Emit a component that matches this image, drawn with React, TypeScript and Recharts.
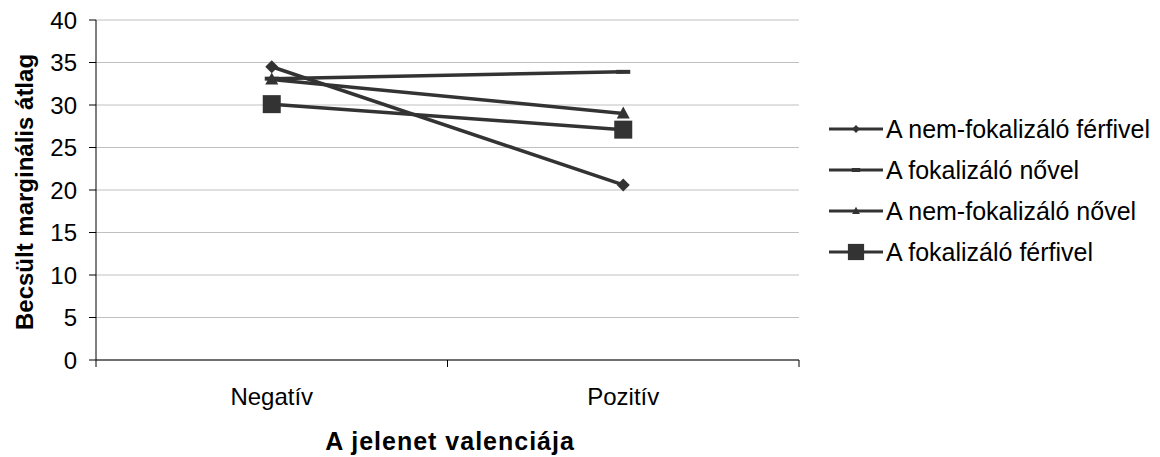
import React from 'react';
import { LineChart, Line, XAxis, YAxis, CartesianGrid, Legend } from 'recharts';

const categories = ['Negatív', 'Pozitív'];
const nemFokFerfi = [34.5, 20.6];
const fokNo = [33.1, 33.9];
const nemFokNo = [33.0, 29.0];
const fokFerfi = [30.1, 27.1];
const yTicks = [0, 5, 10, 15, 20, 25, 30, 35, 40];
const seriesNames = [
  'A nem-fokalizáló férfivel',
  'A fokalizáló nővel',
  'A nem-fokalizáló nővel',
  'A fokalizáló férfivel',
];
const yLabel = 'Becsült marginális átlag';
const xLabel = 'A jelenet valenciája';

const data = categories.map((c, i) => ({
  x: i + 0.5,
  cat: c,
  s1: nemFokFerfi[i],
  s2: fokNo[i],
  s3: nemFokNo[i],
  s4: fokFerfi[i],
}));

const COLOR = '#333333';
const FONT = '"Liberation Sans", Arial, sans-serif';
const LW = 3.5;

const shapes = ['diamond', 'dash', 'triangle', 'square'];

function Marker({ shape, cx, cy, scale = 1 }: any) {
  if (cx == null || cy == null) return null;
  if (shape === 'diamond') {
    const h = 6.5 * scale;
    return <polygon points={`${cx},${cy - h} ${cx + h},${cy} ${cx},${cy + h} ${cx - h},${cy}`} fill={COLOR} />;
  }
  if (shape === 'triangle') {
    const w = 6.5 * scale;
    return <polygon points={`${cx},${cy - 7 * scale} ${cx + w},${cy + 5 * scale} ${cx - w},${cy + 5 * scale}`} fill={COLOR} />;
  }
  if (shape === 'square') {
    const s = 9 * scale;
    return <rect x={cx - s} y={cy - s} width={2 * s} height={2 * s} fill={COLOR} />;
  }
  const w = 7 * scale;
  return <rect x={cx - w} y={cy - 2} width={2 * w} height={4} fill={COLOR} />;
}

const mkDot = (shape: string) => (props: any) => (
  <Marker key={`${shape}-${props.index}`} shape={shape} cx={props.cx} cy={props.cy} />
);

function XTick(props: any) {
  const { x, y, payload } = props;
  const v = payload.value;
  if (Number.isInteger(v)) {
    return <line x1={x} y1={y - 7} x2={x} y2={y} stroke="#000" strokeWidth={1} />;
  }
  const idx = Math.floor(v);
  return (
    <text x={x} y={y + 38} textAnchor="middle" fontFamily={FONT} fontSize={24} fill="#000">
      {categories[idx]}
    </text>
  );
}

function YTick(props: any) {
  const { x, y, payload } = props;
  return (
    <text x={x} y={y + 8.5} textAnchor="end" fontFamily={FONT} fontSize={24} fill="#000">
      {payload.value}
    </text>
  );
}

function LegendContent() {
  return (
    <svg width={330} height={170}>
      {seriesNames.map((n, i) => {
        const cy = 14 + i * 41;
        return (
          <g key={n}>
            <line x1={0} y1={cy} x2={54} y2={cy} stroke={COLOR} strokeWidth={3} />
            <Marker shape={shapes[i]} cx={27} cy={cy} scale={shapes[i] === 'square' ? 0.9 : 0.6} />
            <text x={57} y={cy + 9} fontFamily={FONT} fontSize={25} fill="#000">
              {n}
            </text>
          </g>
        );
      })}
    </svg>
  );
}

export default function App() {
  return (
    <div style={{ position: 'absolute', left: 0, top: 0, width: 1160, height: 457, background: '#fff' }}>
      <LineChart width={1160} height={457} data={data} margin={{ top: 20, right: 361, bottom: 0, left: 0 }}>
        <CartesianGrid horizontal vertical={false} stroke="#c0c0c0" strokeWidth={1} />
        <XAxis
          dataKey="x"
          type="number"
          domain={[0, 2]}
          ticks={[0, 0.5, 1, 1.5, 2]}
          tickLine={false}
          tickSize={7}
          tickMargin={0}
          axisLine={{ stroke: '#000' }}
          height={97}
          tick={<XTick />}
          interval={0}
          label={{
            content: () => (
              <text x={450} y={450} textAnchor="middle" fontFamily={FONT} fontSize={25} fontWeight="bold" letterSpacing={1} fill="#000">
                {xLabel}
              </text>
            ),
          }}
        />
        <YAxis
          domain={[0, 40]}
          ticks={yTicks}
          width={96}
          tickSize={7}
          tickMargin={12}
          tickLine={{ stroke: '#000' }}
          axisLine={{ stroke: '#000' }}
          tick={<YTick />}
          interval={0}
          label={{
            content: (p: any) => {
              const vb = p.viewBox;
              const cy = vb.y + vb.height / 2 + 2;
              return (
                <text x={0} y={0} transform={`translate(33, ${cy}) rotate(-90)`} textAnchor="middle" fontFamily={FONT} fontSize={24} fontWeight="bold" fill="#000">
                  {yLabel}
                </text>
              );
            },
          }}
        />
        <Legend
          layout="vertical"
          align="center"
          verticalAlign="middle"
          content={<LegendContent />}
          wrapperStyle={{ left: 829, top: 115, width: 330, height: 170 }}
        />
        <Line dataKey="s1" name={seriesNames[0]} stroke={COLOR} strokeWidth={LW} dot={mkDot('diamond')} isAnimationActive={false} />
        <Line dataKey="s2" name={seriesNames[1]} stroke={COLOR} strokeWidth={LW} dot={mkDot('dash')} isAnimationActive={false} />
        <Line dataKey="s3" name={seriesNames[2]} stroke={COLOR} strokeWidth={LW} dot={mkDot('triangle')} isAnimationActive={false} />
        <Line dataKey="s4" name={seriesNames[3]} stroke={COLOR} strokeWidth={LW} dot={mkDot('square')} isAnimationActive={false} />
      </LineChart>
    </div>
  );
}
